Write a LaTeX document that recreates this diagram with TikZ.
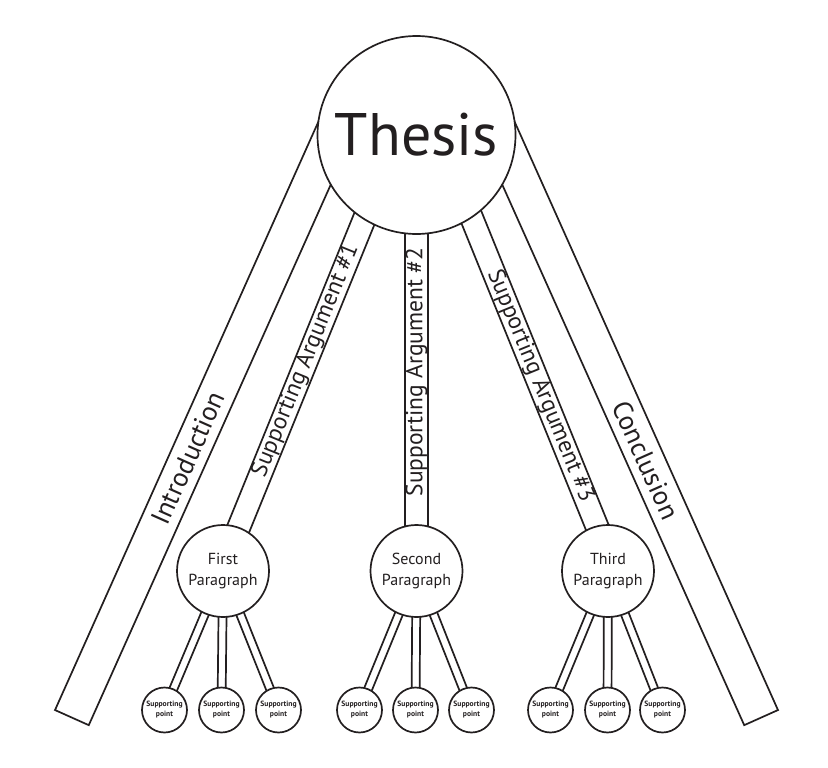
\documentclass[tikz,border=0pt]{standalone}
\usepackage{fontspec}
\setmainfont{PT Sans}
\usetikzlibrary{calc}
\pgfdeclarelayer{bg}
\pgfsetlayers{bg,main}
\definecolor{ink}{HTML}{231F20}
\newcommand\drawbar[3]{%
  \draw[barline] ($(#1)!#3!90:(#2)$) -- ($(#2)!#3!-90:(#1)$) -- ($(#2)!#3!90:(#1)$) -- ($(#1)!#3!-90:(#2)$) -- cycle;}
\begin{document}
\begin{tikzpicture}[x=1pt,y=-1pt,line width=1.7pt,draw=ink,text=ink,
  circ/.style={circle,draw=ink,line width=1.7pt,fill=white,inner sep=0pt,align=center},
  thesisnode/.style={circ,minimum size=198pt,font=\fontsize{60}{60}\selectfont},
  para/.style={circ,minimum size=92pt,font=\fontsize{16}{21}\selectfont},
  sp/.style={circ,minimum size=45pt,font=\bfseries\fontsize{7.6}{10}\selectfont},
  barline/.style={draw=ink,line width=1.7pt,fill=white,line join=miter},
  bigtext/.style={inner sep=0pt,font=\fontsize{27}{27}\selectfont},
  satext/.style={inner sep=0pt,font=\fontsize{23.5}{23.5}\selectfont}]
\useasboundingbox (0,0) rectangle (828,768);
% circles
\node[thesisnode] (thesis) at (416.5,135) {Thesis};
\node[para] (p1) at (223,571) {First\\Paragraph};
\node[para] (p2) at (416.5,571) {Second\\Paragraph};
\node[para] (p3) at (608,571) {Third\\Paragraph};
\node[sp] (s11) at (164.5,710) {Supporting\\point};
\node[sp] (s12) at (221.5,710) {Supporting\\point};
\node[sp] (s13) at (278.5,710) {Supporting\\point};
\node[sp] (s21) at (359.5,710) {Supporting\\point};
\node[sp] (s22) at (415.5,710) {Supporting\\point};
\node[sp] (s23) at (471.5,710) {Supporting\\point};
\node[sp] (s31) at (550.5,710) {Supporting\\point};
\node[sp] (s32) at (607.5,710) {Supporting\\point};
\node[sp] (s33) at (662.5,710) {Supporting\\point};
% bar end points
\coordinate (introtop) at ($(thesis.center)+(-70.1,-30.6)$);
\coordinate (introend) at (71.9,717.6);
\coordinate (conctop) at ($(thesis.center)+(70.1,-30.6)$);
\coordinate (concend) at (761.1,717.6);
\coordinate (a1top) at ($(thesis.center)+(-18,0)$);
\coordinate (a1bot) at ($(p1.center)+(-2,0)$);
\coordinate (a3top) at ($(thesis.center)+(21.5,0)$);
\coordinate (a3bot) at ($(p3.center)+(7,0)$);
\begin{pgfonlayer}{bg}
  \fill[white] (0,0) rectangle (828,768);
  \drawbar{introtop}{introend}{18.5pt}
  \drawbar{conctop}{concend}{18.5pt}
  \drawbar{a1top}{a1bot}{11.5pt}
  \drawbar{thesis.center}{p2.center}{11.5pt}
  \drawbar{a3top}{a3bot}{11.5pt}
  \foreach \p/\s in {p1/s11,p1/s12,p1/s13,p2/s21,p2/s22,p2/s23,p3/s31,p3/s32,p3/s33}{
    \drawbar{\p.center}{\s.center}{4pt}
  }
\end{pgfonlayer}
% bar labels
\node[bigtext,rotate=66] (tintro) at (188,458) {Introduction};
\node[bigtext,rotate=-66] (tconc) at (646,460) {Conclusion};
\node[satext,rotate=67.85] (ta1) at (306,361) {Supporting Argument \#1};
\node[satext,rotate=90] (ta2) at (416.5,372) {Supporting Argument \#2};
\node[satext,rotate=-67.85] (ta3) at (540,386) {Supporting Argument \#3};
\end{tikzpicture}
\end{document}
